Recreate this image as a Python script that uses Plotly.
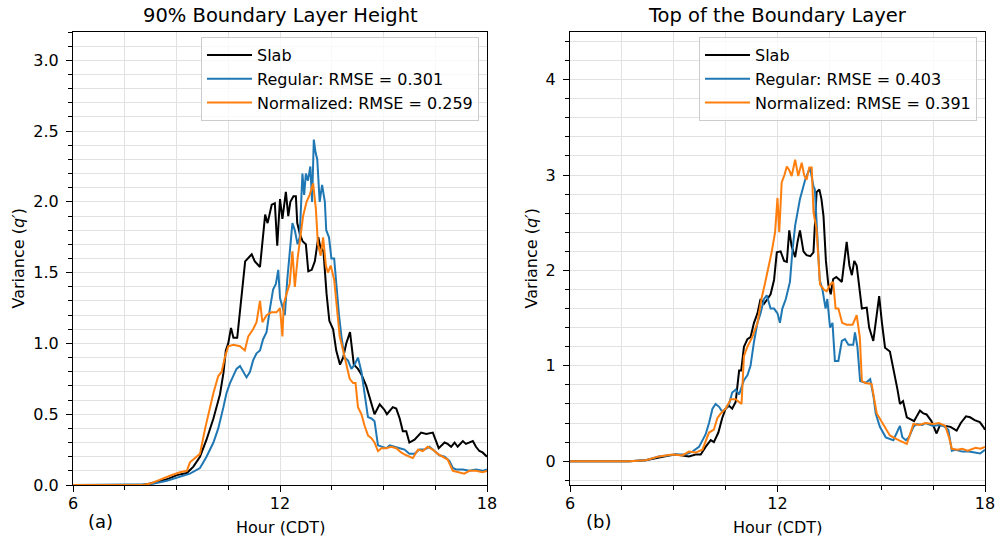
import plotly.graph_objects as go

# ---------------- Panel (a): 90% Boundary Layer Height ----------------
a_slab_hour = [6.0, 8.0, 8.24, 8.72, 9.01, 9.30, 9.49, 9.68, 9.87, 10.07, 10.26, 10.36, 10.43, 10.50, 10.58,
               10.65, 10.76, 10.86, 10.99, 11.18, 11.27, 11.42, 11.57, 11.64, 11.76, 11.85, 11.92, 12.00, 12.07,
               12.17, 12.24, 12.30, 12.39, 12.46, 12.50, 12.58, 12.66, 12.75, 12.82, 12.92, 13.01, 13.11, 13.17,
               13.26, 13.35, 13.43, 13.54, 13.63, 13.74, 13.83, 13.92, 14.03, 14.07, 14.14, 14.26, 14.36, 14.50,
               14.60, 14.74, 14.89, 15.03, 15.10, 15.27, 15.37, 15.47, 15.56, 15.66, 15.75, 15.90, 16.09, 16.24,
               16.43, 16.53, 16.60, 16.77, 16.86, 16.96, 17.06, 17.15, 17.30, 17.39, 17.59, 17.68, 17.78, 17.87, 18.0]
a_slab_var = [0, 0, 0.01, 0.04, 0.07, 0.085, 0.13, 0.2, 0.32, 0.47, 0.64, 0.79, 0.95, 1.0, 1.11,
              1.04, 1.04, 1.29, 1.58, 1.63, 1.58, 1.54, 1.91, 1.85, 1.98, 1.99, 1.69, 2.02, 1.88,
              2.07, 1.90, 2.0, 2.04, 2.04, 1.85, 1.77, 1.72, 1.70, 1.51, 1.52, 1.58, 1.75, 1.68,
              1.65, 1.35, 1.16, 1.10, 0.95, 0.85, 0.90, 1.0, 1.08, 1.0, 0.85, 0.82, 0.78, 0.70,
              0.62, 0.50, 0.57, 0.53, 0.50, 0.55, 0.54, 0.47, 0.38, 0.38, 0.30, 0.32, 0.37, 0.36,
              0.37, 0.30, 0.26, 0.30, 0.29, 0.27, 0.30, 0.27, 0.31, 0.29, 0.31, 0.27, 0.24, 0.23, 0.20]

a_reg_hour = [6.0, 8.04, 8.24, 8.72, 9.10, 9.39, 9.68, 9.87, 10.07, 10.21, 10.36, 10.45, 10.55, 10.65, 10.74,
              10.84, 10.93, 11.03, 11.13, 11.22, 11.32, 11.42, 11.51, 11.61, 11.71, 11.80, 11.88, 11.95, 12.00,
              12.07, 12.14, 12.21, 12.28, 12.36, 12.43, 12.51, 12.57, 12.65, 12.70, 12.75, 12.81, 12.88, 12.93,
              12.98, 13.03, 13.08, 13.15, 13.22, 13.30, 13.34, 13.42, 13.49, 13.57, 13.63, 13.71, 13.78, 13.87,
              13.97, 14.07, 14.16, 14.26, 14.36, 14.45, 14.55, 14.65, 14.74, 14.84, 14.94, 15.08, 15.18, 15.37,
              15.47, 15.61, 15.75, 15.90, 16.04, 16.19, 16.33, 16.48, 16.62, 16.77, 16.91, 17.01, 17.10, 17.30,
              17.49, 17.68, 17.87, 18.0]
a_reg_var = [0, 0, 0.005, 0.03, 0.06, 0.08, 0.12, 0.2, 0.3, 0.4, 0.55, 0.65, 0.72, 0.78, 0.82,
             0.84, 0.80, 0.76, 0.80, 0.88, 0.93, 0.95, 1.03, 1.08, 1.25, 1.38, 1.42, 1.52, 1.32,
             1.25, 1.20, 1.45, 1.62, 1.85, 1.80, 1.70, 1.75, 2.2, 2.05, 2.2, 2.15, 2.25, 2.0,
             2.44, 2.35, 2.3, 2.0, 2.12, 2.0, 1.8, 1.75, 1.6, 1.6, 1.4, 1.2, 1.05, 0.9,
             0.88, 0.82, 0.85, 0.9, 0.8, 0.65, 0.48, 0.47, 0.45, 0.28, 0.27, 0.26, 0.28, 0.27,
             0.26, 0.25, 0.22, 0.22, 0.25, 0.25, 0.27, 0.24, 0.21, 0.20, 0.17, 0.12, 0.11, 0.11,
             0.10, 0.11, 0.10, 0.11]

a_norm_hour = [6.0, 8.04, 8.24, 8.53, 8.81, 9.10, 9.30, 9.39, 9.59, 9.68, 9.83, 9.92, 10.07, 10.21, 10.31,
               10.40, 10.50, 10.65, 10.84, 10.98, 11.08, 11.22, 11.32, 11.42, 11.49, 11.61, 11.75, 11.90, 12.00,
               12.07, 12.11, 12.19, 12.28, 12.36, 12.43, 12.51, 12.57, 12.67, 12.77, 12.86, 12.96, 13.04, 13.10,
               13.18, 13.25, 13.33, 13.39, 13.47, 13.57, 13.65, 13.73, 13.83, 13.92, 14.02, 14.12, 14.19, 14.26,
               14.36, 14.45, 14.55, 14.65, 14.74, 14.84, 14.94, 15.08, 15.22, 15.37, 15.51, 15.66, 15.75, 15.85,
               16.00, 16.14, 16.28, 16.43, 16.57, 16.72, 16.86, 17.01, 17.15, 17.34, 17.49, 17.68, 17.87, 18.0]
a_norm_var = [0, 0, 0.01, 0.04, 0.065, 0.09, 0.10, 0.16, 0.2, 0.22, 0.4, 0.5, 0.65, 0.77, 0.8,
              0.9, 0.98, 0.99, 0.98, 0.95, 1.05, 1.1, 1.15, 1.3, 1.15, 1.2, 1.22, 1.22, 1.25,
              1.05, 1.28, 1.35, 1.42, 1.65, 1.4, 1.6, 1.7, 1.9, 2.0, 2.05, 2.13, 1.95, 1.7,
              1.62, 1.75, 1.55, 1.5, 1.55, 1.45, 1.25, 1.05, 0.95, 0.85, 0.75, 0.72, 0.72, 0.55,
              0.5, 0.42, 0.35, 0.33, 0.3, 0.24, 0.26, 0.26, 0.27, 0.26, 0.23, 0.21, 0.2, 0.19,
              0.25, 0.24, 0.27, 0.25, 0.22, 0.2, 0.18, 0.1, 0.09, 0.08, 0.1, 0.1, 0.09, 0.1]

# ---------------- Panel (b): Top of the Boundary Layer ----------------
b_slab_hour = [6.0, 7.71, 8.19, 8.57, 8.86, 9.06, 9.25, 9.44, 9.63, 9.78, 9.92, 10.07, 10.16, 10.29, 10.40,
               10.50, 10.60, 10.69, 10.79, 10.89, 10.95, 11.03, 11.13, 11.22, 11.32, 11.42, 11.51, 11.61, 11.71,
               11.80, 11.90, 11.98, 12.09, 12.19, 12.27, 12.34, 12.41, 12.51, 12.58, 12.65, 12.75, 12.84, 12.95,
               13.04, 13.13, 13.21, 13.27, 13.33, 13.40, 13.47, 13.54, 13.61, 13.70, 13.86, 14.0, 14.08, 14.15,
               14.22, 14.29, 14.36, 14.44, 14.58, 14.65, 14.77, 14.86, 14.94, 15.02, 15.11, 15.25, 15.37, 15.47,
               15.54, 15.63, 15.74, 15.85, 15.95, 16.04, 16.12, 16.22, 16.31, 16.45, 16.6, 16.7, 16.85, 17.0,
               17.18, 17.3, 17.45, 17.57, 17.7, 17.85, 17.95, 18.0]
b_slab_var = [0, 0, 0.01, 0.04, 0.06, 0.07, 0.06, 0.05, 0.07, 0.07, 0.15, 0.22, 0.2, 0.3, 0.45,
              0.55, 0.58, 0.55, 0.62, 0.95, 0.95, 1.2, 1.28, 1.3, 1.45, 1.55, 1.7, 1.65, 1.7,
              1.75, 1.9, 2.19, 2.2, 2.1, 2.09, 2.42, 2.25, 2.14, 2.3, 2.42, 2.2, 2.16, 2.15,
              2.19, 2.82, 2.85, 2.75, 2.57, 2.1, 1.85, 1.75, 1.91, 1.93, 1.88, 2.3, 2.05, 1.95,
              2.1, 2.05, 1.85, 1.6, 1.61, 1.4, 1.26, 1.5, 1.73, 1.45, 1.19, 1.15, 0.95, 0.75,
              0.60, 0.63, 0.46, 0.44, 0.42, 0.48, 0.53, 0.5, 0.49, 0.42, 0.29, 0.38, 0.37, 0.36,
              0.32, 0.4, 0.47, 0.46, 0.43, 0.41, 0.36, 0.33]

b_reg_hour = [6.0, 7.71, 8.19, 8.57, 9.06, 9.34, 9.54, 9.73, 9.92, 10.02, 10.12, 10.21, 10.31, 10.40, 10.50,
              10.60, 10.69, 10.79, 10.89, 11.03, 11.13, 11.22, 11.32, 11.42, 11.51, 11.61, 11.69, 11.80, 11.90,
              12.0, 12.07, 12.14, 12.24, 12.36, 12.43, 12.51, 12.65, 12.80, 12.94, 13.04, 13.08, 13.15, 13.22,
              13.30, 13.39, 13.44, 13.52, 13.59, 13.66, 13.76, 13.86, 13.95, 14.05, 14.19, 14.24, 14.31, 14.39,
              14.55, 14.68, 14.78, 14.84, 14.96, 15.13, 15.35, 15.45, 15.54, 15.61, 15.71, 15.80, 15.93, 16.03,
              16.19, 16.28, 16.50, 16.67, 16.80, 16.94, 17.04, 17.15, 17.34, 17.54, 17.86, 18.0]
b_reg_var = [0, 0, 0.01, 0.05, 0.07, 0.07, 0.1, 0.15, 0.28, 0.4, 0.55, 0.6, 0.57, 0.52, 0.55,
             0.6, 0.72, 0.75, 0.7, 0.85, 0.9, 1.0, 1.25, 1.45, 1.55, 1.7, 1.74, 1.6, 1.6,
             1.55, 1.45, 1.6, 1.7, 1.88, 2.2, 2.47, 2.75, 2.95, 3.08, 2.88, 2.85, 2.4, 1.9,
             1.8, 1.6, 1.7, 1.40, 1.45, 1.05, 1.05, 1.26, 1.28, 1.22, 1.22, 1.35, 1.2, 0.84,
             0.82, 0.86, 0.67, 0.5, 0.36, 0.25, 0.22, 0.3, 0.37, 0.25, 0.22, 0.25, 0.36, 0.39,
             0.38, 0.4, 0.37, 0.38, 0.37, 0.33, 0.11, 0.12, 0.1, 0.1, 0.08, 0.12]

b_norm_hour = [6.0, 7.71, 8.19, 8.57, 8.96, 9.25, 9.44, 9.63, 9.83, 10.02, 10.16, 10.26, 10.36, 10.50, 10.65,
               10.79, 10.96, 11.03, 11.13, 11.27, 11.42, 11.54, 11.63, 11.73, 11.83, 11.93, 12.0, 12.05, 12.12,
               12.20, 12.27, 12.34, 12.41, 12.51, 12.60, 12.70, 12.77, 12.84, 12.92, 12.99, 13.04, 13.13, 13.23,
               13.34, 13.42, 13.52, 13.61, 13.68, 13.76, 13.87, 14.0, 14.17, 14.29, 14.38, 14.44, 14.55, 14.72,
               14.87, 15.06, 15.25, 15.50, 15.74, 15.93, 16.1, 16.28, 16.51, 16.67, 16.85, 16.96, 17.04, 17.2,
               17.34, 17.5, 17.73, 17.87, 18.0]
b_norm_var = [0, 0, 0.01, 0.05, 0.07, 0.06, 0.1, 0.09, 0.12, 0.3, 0.33, 0.45, 0.5, 0.55, 0.65,
              0.65, 0.6, 1.1, 1.2, 1.3, 1.45, 1.71, 1.85, 2.02, 2.19, 2.40, 2.76, 2.4, 2.92,
              3.0, 3.09, 3.05, 2.99, 3.16, 2.99, 3.13, 3.0, 2.95, 3.08, 3.08, 2.61, 2.43, 1.85,
              1.8, 1.78, 1.85, 1.88, 1.6, 1.6, 1.45, 1.43, 1.43, 1.53, 1.3, 0.84, 0.82, 0.81,
              0.50, 0.39, 0.27, 0.22, 0.18, 0.39, 0.38, 0.4, 0.39, 0.4, 0.37, 0.25, 0.13, 0.12,
              0.13, 0.11, 0.14, 0.13, 0.15]

a_labels = ["Slab", "Regular: RMSE = 0.301", "Normalized: RMSE = 0.259"]
b_labels = ["Slab", "Regular: RMSE = 0.403", "Normalized: RMSE = 0.391"]
titles = ["90% Boundary Layer Height", "Top of the Boundary Layer"]
colors = ["#000000", "#1f77b4", "#ff7f0e"]

FONT = "DejaVu Sans"
W, H = 996, 538
TICK_FS = 16
LEG_FS = 16

fig = go.Figure()

panels = [
    ("x", "y", "legend", [(a_slab_hour, a_slab_var), (a_reg_hour, a_reg_var), (a_norm_hour, a_norm_var)], a_labels),
    ("x2", "y2", "legend2", [(b_slab_hour, b_slab_var), (b_reg_hour, b_reg_var), (b_norm_hour, b_norm_var)], b_labels),
]
for p, (xa, ya, lg, series, labels) in enumerate(panels):
    for i, ((hx, vy), name) in enumerate(zip(series, labels)):
        fig.add_trace(go.Scatter(
            x=hx, y=vy, mode="lines", name=name, xaxis=xa, yaxis=ya, legend=lg,
            legendgroup=f"p{p}g{i}",
            line=dict(color=colors[i], width=2),
        ))

# pixel geometry of the two plot areas
L1, R1 = 73, 487
L2, R2 = 570, 985
TOP, BOT = 32, 485

def px(xp):
    return xp / W

def py(yp):
    return 1 - yp / H

grid = "#e2e2e2"
common_x = dict(
    range=[6, 18], tickvals=[6, 12, 18], ticks="outside", ticklen=6, tickcolor="black",
    ticklabelstandoff=-2, automargin=False,
    showline=True, linecolor="black", linewidth=1, mirror=True,
    showgrid=True, gridcolor=grid, gridwidth=1, zeroline=False,
    tickfont=dict(family=FONT, size=TICK_FS, color="black"),
    minor=dict(dtick=1.5, tick0=6, ticks="outside", ticklen=4, tickcolor="black",
               showgrid=True, gridcolor=grid, gridwidth=1),
)
common_y = dict(
    ticks="outside", ticklen=6, tickcolor="black", ticklabelstandoff=4, automargin=False,
    showline=True, linecolor="black", linewidth=1, mirror=True,
    showgrid=True, gridcolor=grid, zeroline=False,
    tickfont=dict(family=FONT, size=TICK_FS, color="black"),
)

legend_common = dict(
    xanchor="right", yanchor="top",
    bgcolor="rgba(255,255,255,0.8)", bordercolor="#cccccc", borderwidth=1,
    font=dict(family=FONT, size=LEG_FS, color="black"), tracegroupgap=0, itemwidth=45,
)

fig.update_layout(
    width=W, height=H, autosize=False,
    margin=dict(l=0, r=0, t=0, b=0, pad=0),
    paper_bgcolor="white", plot_bgcolor="white",
    font=dict(family=FONT, size=16, color="black"),
    xaxis=dict(domain=[px(L1), px(R1)], anchor="y", **common_x),
    xaxis2=dict(domain=[px(L2), px(R2)], anchor="y2", **common_x),
    yaxis=dict(
        domain=[py(BOT), py(TOP)], anchor="x", range=[0, 3.2], dtick=0.5, tick0=0, tickformat=".1f",
        minor=dict(dtick=0.1, tick0=0, ticks="outside", ticklen=4, tickcolor="black",
                   showgrid=True, gridcolor=grid),
        **common_y,
    ),
    yaxis2=dict(
        domain=[py(BOT), py(TOP)], anchor="x2", range=[-0.25, 4.5], dtick=1, tick0=0,
        minor=dict(dtick=0.2, tick0=0, ticks="outside", ticklen=4, tickcolor="black",
                   showgrid=True, gridcolor=grid),
        **common_y,
    ),
    legend=dict(x=px(479), y=py(37), **legend_common),
    legend2=dict(x=px(977), y=py(37), **legend_common),
    showlegend=True,
)

ann = []
for cx, t in zip([(L1 + R1) / 2, (L2 + R2) / 2], titles):
    ann.append(dict(x=px(cx), y=py(15), xref="paper", yref="paper", text=t, showarrow=False,
                    xanchor="center", yanchor="middle", font=dict(family=FONT, size=19.5, color="black")))
for cx in [(L1 + R1) / 2, (L2 + R2) / 2]:
    ann.append(dict(x=px(cx), y=py(527), xref="paper", yref="paper", text="Hour (CDT)", showarrow=False,
                    xanchor="center", yanchor="middle", font=dict(family=FONT, size=16, color="black")))
for lx, t in zip([100, 598], ["(a)", "(b)"]):
    ann.append(dict(x=px(lx), y=py(521), xref="paper", yref="paper", text=t, showarrow=False,
                    xanchor="center", yanchor="middle", font=dict(family=FONT, size=18, color="black")))
for lx in [18, 531]:
    ann.append(dict(x=px(lx), y=py((TOP + BOT) / 2), xref="paper", yref="paper",
                    text="Variance (<i>q′</i>)", showarrow=False, textangle=-90,
                    xanchor="center", yanchor="middle", font=dict(family=FONT, size=16, color="black")))
fig.update_layout(annotations=ann)

fig.write_html("out.html")
